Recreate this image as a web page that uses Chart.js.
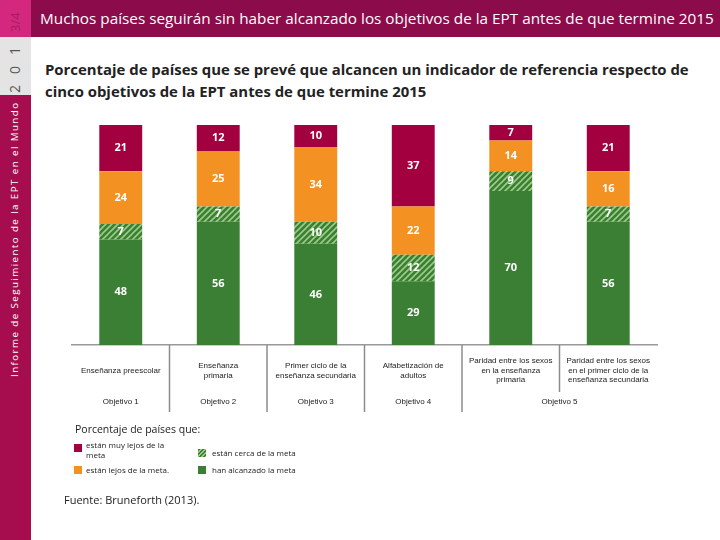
<!DOCTYPE html>
<html>
<head>
<meta charset="utf-8">
<script src="https://cdn.jsdelivr.net/npm/chart.js@4"></script>
<style>
  body { margin: 0; width: 720px; height: 540px; position: relative; overflow: hidden; background: #fff; font-family: "Open Sans", sans-serif; }
  #chart { position: absolute; left: 0; top: 0; }
  .side { position: absolute; left: 0; top: 0; width: 31px; height: 540px; background: #a60d4e; }
  .side-top { position: absolute; left: 0; top: 0; width: 31px; height: 37px; background: #d4287f; }
  .side-grey { position: absolute; left: 0; top: 37px; width: 31px; height: 58px; background: #e4e4e4; }
  .rot { position: absolute; transform-origin: 0 0; transform: rotate(-90deg); white-space: nowrap; }
  .header { position: absolute; left: 31px; top: 0; width: 689px; height: 37px; background: #8c0b4a; color: #fff; font-size: 15.3px; line-height: 37px; padding-left: 9px; box-sizing: border-box; white-space: nowrap; }
  .subtitle { position: absolute; left: 45px; top: 58px; font-size: 14.9px; font-weight: bold; color: #222; line-height: 22px; white-space: nowrap; }
  .legend-title { position: absolute; left: 75px; top: 422px; font-size: 10.5px; color: #222; }
  .lg { position: absolute; font-size: 8px; color: #222; line-height: 10px; }
  .sw { position: absolute; width: 8px; height: 8px; }
  .source { position: absolute; left: 64px; top: 492px; font-size: 11px; color: #222; }
</style>
</head>
<body>
<div class="side"></div>
<div class="side-top"></div>
<div class="side-grey"></div>
<div class="rot" style="left:7px; top:32px; font-size:13px; color:#a61d5c; line-height:16px;">3/4</div>
<div class="rot" style="left:7px; top:93px; font-size:14px; color:#555; line-height:16px; letter-spacing:11px;">201</div>
<div class="rot" style="left:8px; top:377px; font-size:9.8px; color:#fff; line-height:14px; letter-spacing:1.4px;">Informe de Seguimiento de la EPT en el Mundo</div>
<div class="header">Muchos países seguirán sin haber alcanzado los objetivos de la EPT antes de que termine 2015</div>
<div class="subtitle">Porcentaje de países que se prevé que alcancen un indicador de referencia respecto de<br>cinco objetivos de la EPT antes de que termine 2015</div>
<canvas id="chart" width="720" height="540"></canvas>
<div class="legend-title">Porcentaje de países que:</div>
<div class="sw" style="left:74px; top:444px; background:#a3003f;"></div>
<div class="lg" style="left:86px; top:440px;">están muy lejos de la<br>meta</div>
<div class="sw" style="left:74px; top:466px; background:#f39222;"></div>
<div class="lg" style="left:86px; top:465px;">están lejos de la meta.</div>
<div class="sw" style="left:198px; top:449px; background:repeating-linear-gradient(135deg, #3a7f33 0 1.5px, #9ccc86 1.5px 3px);"></div>
<div class="lg" style="left:212px; top:448px;">están cerca de la meta</div>
<div class="sw" style="left:198px; top:466px; background:#3a7f33;"></div>
<div class="lg" style="left:212px; top:465px;">han alcanzado la meta</div>
<div class="source">Fuente: Bruneforth (2013).</div>
<script>
// categories (multi-line tick labels)
const categories = [
  ["Enseñanza preescolar"],
  ["Enseñanza", "primaria"],
  ["Primer ciclo de la", "enseñanza secundaria"],
  ["Alfabetización de", "adultos"],
  ["Paridad entre los sexos", "en la enseñanza", "primaria"],
  ["Paridad entre los sexos", "en el primer ciclo de la", "enseñanza secundaria"]
];
// which categories belong to each goal
const goalLabels = ["Objetivo 1", "Objetivo 2", "Objetivo 3", "Objetivo 4", "Objetivo 5"];
const goalGroups = [[0], [1], [2], [3], [4, 5]];

// percentages of countries
const alcanzado = [48, 56, 46, 29, 70, 56];
const cerca = [7, 7, 10, 12, 9, 7];
const lejos = [24, 25, 34, 22, 14, 16];
const muyLejos = [21, 12, 10, 37, 7, 21];

const green = "#3a7f33";
const orange = "#f39222";
const maroon = "#a3003f";

function hatch() {
  const c = document.createElement("canvas");
  c.width = 6;
  c.height = 6;
  const g = c.getContext("2d");
  g.fillStyle = green;
  g.fillRect(0, 0, 6, 6);
  g.strokeStyle = "#9ccc86";
  g.lineWidth = 1.6;
  g.beginPath();
  g.moveTo(-1, 7); g.lineTo(7, -1);
  g.moveTo(-1, 1); g.lineTo(1, -1);
  g.moveTo(5, 7); g.lineTo(7, 5);
  g.stroke();
  return g.createPattern(c, "repeat");
}

// white numbers inside each segment
const valueLabels = {
  id: "valueLabels",
  afterDatasetsDraw(chart) {
    const ctx = chart.ctx;
    ctx.save();
    ctx.font = "bold 11px 'Open Sans'";
    ctx.fillStyle = "#fff";
    ctx.textAlign = "center";
    ctx.textBaseline = "middle";
    chart.data.datasets.forEach((ds, i) => {
      chart.getDatasetMeta(i).data.forEach((el, j) => {
        ctx.fillText(ds.data[j], el.x, (el.y + el.base) / 2);
      });
    });
    ctx.restore();
  }
};

// separators below the axis and the goal row
const goalRow = {
  id: "goalRow",
  afterDraw(chart) {
    const ctx = chart.ctx;
    const x = chart.scales.x;
    const bottom = chart.chartArea.bottom;
    ctx.save();
    ctx.strokeStyle = "#8c8c8c";
    ctx.lineWidth = 1.5;
    for (let i = 1; i < categories.length; i++) {
      const px = (x.getPixelForValue(i - 1) + x.getPixelForValue(i)) / 2;
      // lines inside one goal stop above the goal row
      const sameGoal = goalGroups.some((g) => g.includes(i - 1) && g.includes(i));
      ctx.beginPath();
      ctx.moveTo(px, bottom);
      ctx.lineTo(px, bottom + (sameGoal ? 47 : 67));
      ctx.stroke();
    }
    ctx.font = "8px 'Liberation Sans'";
    ctx.fillStyle = "#222";
    ctx.textAlign = "center";
    ctx.textBaseline = "middle";
    goalGroups.forEach((g, k) => {
      const px = g.reduce((s, idx) => s + x.getPixelForValue(idx), 0) / g.length;
      ctx.fillText(goalLabels[k], px, bottom + 57);
    });
    ctx.restore();
  }
};

new Chart(document.getElementById("chart"), {
  type: "bar",
  data: {
    labels: categories,
    datasets: [
      { label: "han alcanzado la meta", data: alcanzado, backgroundColor: green },
      { label: "están cerca de la meta", data: cerca, backgroundColor: hatch() },
      { label: "están lejos de la meta.", data: lejos, backgroundColor: orange },
      { label: "están muy lejos de la meta", data: muyLejos, backgroundColor: maroon }
    ]
  },
  options: {
    responsive: false,
    animation: false,
    layout: { padding: { left: 72, right: 63, top: 125, bottom: 150 } },
    datasets: { bar: { barPercentage: 0.44, categoryPercentage: 1 } },
    plugins: { legend: { display: false }, tooltip: { enabled: false } },
    scales: {
      x: {
        stacked: true,
        grid: { display: false },
        border: { display: true, color: "#999", width: 1.5 },
        ticks: {
          autoSkip: false,
          maxRotation: 0,
          crossAlign: "center",
          padding: 8,
          color: "#222",
          font: { family: "'Liberation Sans'", size: 8 }
        },
        afterFit(scale) { scale.height = 45; }
      },
      y: { stacked: true, display: false, min: 0, max: 100 }
    }
  },
  plugins: [valueLabels, goalRow]
});
</script>
</body>
</html>
